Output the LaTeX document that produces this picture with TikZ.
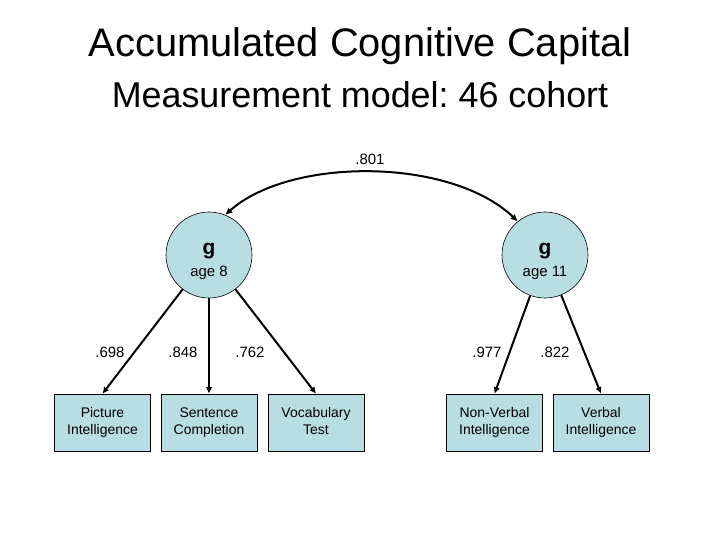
\documentclass[tikz,border=0pt]{standalone}
\usepackage{fontspec}
\setmainfont{Liberation Sans}
\usepackage{tikz}
\usetikzlibrary{positioning,
                arrows.meta}                % arrow tips

\definecolor{latfill}{RGB}{184,221,227}
\newcommand{\twolines}[2]{#1\strut\\#2\strut}
\frenchspacing

\begin{document}
\begin{tikzpicture}[x=1bp, y=-1bp,
        latent/.style={circle, draw=black, line width=0.6bp, fill=latfill, minimum size=86bp, inner sep=0pt},
        obs/.style={rectangle, draw=black, line width=0.6bp, fill=latfill, minimum width=96bp, minimum height=57bp,
                    align=center, font=\fontsize{14}{17}\selectfont},
        coef/.style={font=\fontsize{15}{18}\selectfont},
        load/.style={line width=2bp, -{Latex[length=6.5bp, width=6.5bp]}}]
        \useasboundingbox (0,0) rectangle (720,540);
        % titles
        \node[font=\fontsize{40}{48}\selectfont] (title) at (360,46) {Accumulated Cognitive Capital};
        \node[font=\fontsize{36}{43}\selectfont] (subtitle) at (360,95) {Measurement model: 46 cohort};

        % latent factors
        \node[latent] (g8) at (209,255) {};
        \node[latent] (g11) at (545,255) {};
        \node[anchor=base, font=\fontsize{21}{24}\bfseries] (g8name) at (209,255) {g};
        \node[anchor=base, coef] (g8age) at (209,277) {age 8};
        \node[anchor=base, font=\fontsize{21}{24}\bfseries] (g11name) at (545,255) {g};
        \node[anchor=base, coef] (g11age) at (545,277) {age 11};

        % observed measures
        \node[obs] (pic) at (102.5,422.5) {\twolines{Picture}{Intelligence}};
        \node[obs] (sent) at (209,422.5) {\twolines{Sentence}{Completion}};
        \node[obs] (voc) at (316,422.5) {\twolines{Vocabulary}{Test}};
        \node[obs] (nonv) at (494.5,422.5) {\twolines{Non-Verbal}{Intelligence}};
        \node[obs] (verb) at (601,422.5) {\twolines{Verbal}{Intelligence}};

        % correlation
        \draw[line width=2bp, {Latex[length=7bp, width=7bp]}-{Latex[length=7bp, width=7bp]}]
            (g8.68) .. controls (290,157) and (450,157) .. (g11.129);
        \node[coef] (r) at (370,159) {.801};

        % loadings
        \draw[load] (g8) -- (pic.north);
        \draw[load] (g8) -- (sent.north);
        \draw[load] (g8) -- (voc.north);
        \draw[load] (g11) -- (nonv.north);
        \draw[load] (g11) -- (verb.north);
        \node[coef] (lpic) at (110,352) {.698};
        \node[coef] (lsent) at (183,352) {.848};
        \node[coef] (lvoc) at (250,352) {.762};
        \node[coef] (lnonv) at (487,352) {.977};
        \node[coef] (lverb) at (555,352) {.822};
\end{tikzpicture}
\end{document}
